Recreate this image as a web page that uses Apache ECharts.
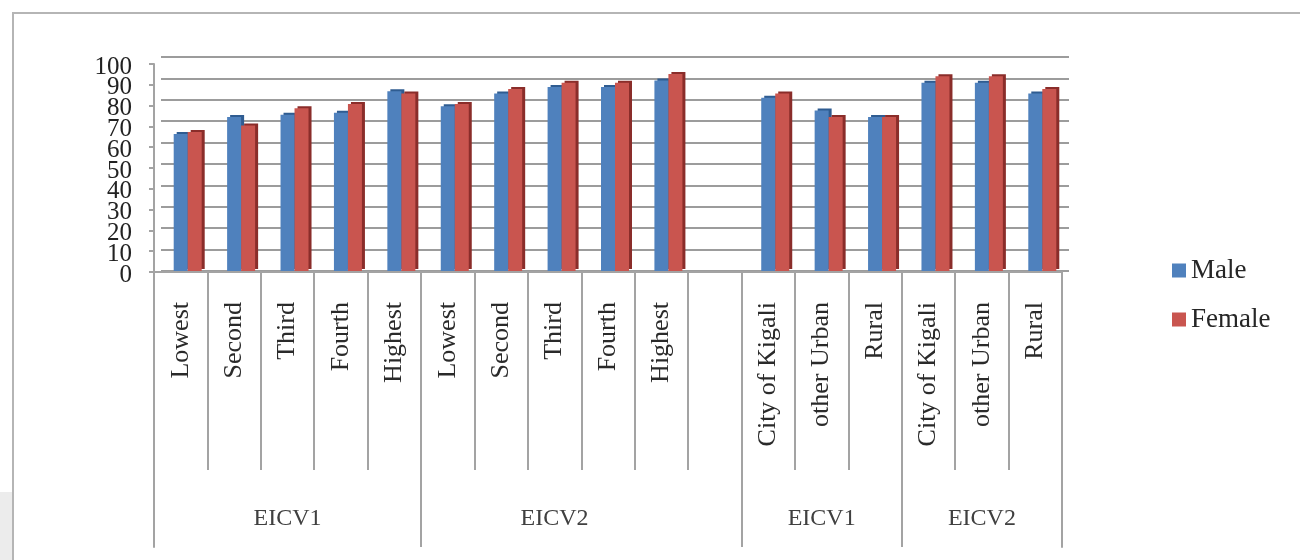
<!DOCTYPE html>
<html>
<head>
<meta charset="utf-8">
<script src="https://cdn.jsdelivr.net/npm/echarts@6/dist/echarts.min.js"></script>
<style>
html,body{margin:0;padding:0;background:#fff;}
#chart{width:1300px;height:560px;}
</style>
</head>
<body>
<div id="chart"></div>
<script>
// ---- data ----
var categories = ['Lowest','Second','Third','Fourth','Highest','Lowest','Second','Third','Fourth','Highest','','City of Kigali','other Urban','Rural','City of Kigali','other Urban','Rural'];
var maleValues   = [64, 72, 73, 74, 84, 77, 83, 86, 86, 89, null, 81, 75, 72, 88, 88, 83];
var femaleValues = [65, 68, 76, 78, 83, 78, 85, 88, 88, 92, null, 83, 72, 72, 91, 91, 85];
var groupLabels = ['EICV1','EICV2','EICV1','EICV2'];
var groupSizes = [5, 6, 3, 3];        // slots spanned by each group (EICV2 includes the blank slot)
var groupLabelSlots = [2, 7, 12, 15];  // slot under which each group label is centred
var yTicks = [0,10,20,30,40,50,60,70,80,90,100];

// derived group axis
var groupAxisData = categories.map(function(){ return ''; });
groupLabelSlots.forEach(function(s, i){ groupAxisData[s] = groupLabels[i]; });
var groupBoundaries = [];
var acc = 0;
groupSizes.forEach(function(n){ groupBoundaries.push(acc); acc += n; });

var FONT = 'Liberation Serif';
var GRAY = '#a3a3a3';
// front value axis geometry: 0 at y=272, 100 at y=64
var AX_TOP = 64, AX_H = 208;
var LBL_TOP = 67; // labels sit slightly lower (3D front face)
var UNIT = AX_H / 100;

function yLabel(v){ return yTicks.indexOf(v) >= 0 ? String(v) : ''; }
var yLabelStyle = {margin:22, fontFamily:FONT, fontSize:25, color:'#222222',
  showMinLabel:true, showMaxLabel:true, formatter:yLabel};

var chart = echarts.init(document.getElementById('chart'));
chart.setOption({
  animation: false,
  backgroundColor: '#ffffff',
  graphic: [
    {type:'rect', shape:{x:0, y:492, width:12, height:68}, style:{fill:'#ececec'}, silent:true},
    {type:'rect', shape:{x:13, y:13, width:1300, height:560}, style:{fill:'none', stroke:'#b5b5b5', lineWidth:2}, silent:true}
  ],
  legend: {
    orient: 'vertical',
    left: 1167, top: 252,
    itemWidth: 14, itemHeight: 14, itemGap: 22,
    icon: 'rect',
    textStyle: {fontFamily: FONT, fontSize: 27, color: '#262626'},
    data: ['Male','Female']
  },
  grid: [
    {left: 161, top: 57, width: 908, height: 214},   // bars
    {left: 154, top: AX_TOP, width: 908, height: AX_H},   // front axes
    {left: 154, top: 272, width: 908, height: 275},  // group level
    {left: 154, top: LBL_TOP - 10*UNIT, width: 908, height: AX_H + 20*UNIT}, // odd labels (-10..110)
    {left: 154, top: LBL_TOP, width: 908, height: AX_H}  // even labels
  ],
  xAxis: [
    {type:'category', gridIndex:0, data: categories, show:false},
    {type:'category', gridIndex:1, data: categories, position:'bottom',
     axisLine:{show:true, lineStyle:{color:GRAY, width:2}},
     axisTick:{show:true, interval:0, length:198, lineStyle:{color:GRAY, width:2}},
     axisLabel:{interval:0, rotate:90, margin:30, fontFamily:FONT, fontSize:26, color:'#2a2a2a'}},
    {type:'category', gridIndex:2, data: groupAxisData, position:'bottom',
     axisLine:{show:false},
     axisTick:{show:true, inside:true, length:275, lineStyle:{color:GRAY, width:2},
       interval:function(idx){ return groupBoundaries.indexOf(idx) >= 0; }},
     axisLabel:{inside:true, margin:16, interval:0, fontFamily:FONT, fontSize:24, color:'#404040'}},
    {type:'category', gridIndex:3, data: categories, show:false},
    {type:'category', gridIndex:4, data: categories, show:false}
  ],
  yAxis: [
    {type:'value', gridIndex:0, min:0, max:100, interval:10,
     axisLine:{show:false}, axisTick:{show:false}, axisLabel:{show:false},
     splitLine:{show:true, lineStyle:{color:'#9c9c9c', width:2}}},
    // front axis line + ticks every 10
    {type:'value', gridIndex:1, min:0, max:100, interval:10, position:'left',
     axisLine:{show:true, lineStyle:{color:GRAY, width:2}},
     axisTick:{show:true, length:5, lineStyle:{color:GRAY, width:2}},
     axisLabel:{show:false}, splitLine:{show:false}},
    {type:'value', gridIndex:2, position:'left', axisLine:{show:true, onZero:false, lineStyle:{color:GRAY, width:2}},
     axisTick:{show:false}, axisLabel:{show:false}, splitLine:{show:false}},
    {type:'value', gridIndex:2, position:'right', axisLine:{show:true, onZero:false, lineStyle:{color:GRAY, width:2}},
     axisTick:{show:false}, axisLabel:{show:false}, splitLine:{show:false}},
    // odd labels 10,30,...,90
    {type:'value', gridIndex:3, min:-10, max:110, interval:20, position:'left',
     axisLine:{show:false}, axisTick:{show:false}, axisLabel:yLabelStyle, splitLine:{show:false}},
    // even labels 0,20,...,100
    {type:'value', gridIndex:4, min:0, max:100, interval:20, position:'left',
     axisLine:{show:false}, axisTick:{show:false}, axisLabel:yLabelStyle, splitLine:{show:false}}
  ],
  series: [
    {name:'Male', type:'bar', xAxisIndex:0, yAxisIndex:0, data: maleValues,
     barWidth: 14, barGap: '0%',
     itemStyle:{color:'#4f81bd', shadowColor:'#2f5c91', shadowOffsetX:3, shadowOffsetY:-2, shadowBlur:0}},
    {name:'Female', type:'bar', xAxisIndex:0, yAxisIndex:0, data: femaleValues,
     barWidth: 14, barGap: '0%',
     itemStyle:{color:'#c9554f', shadowColor:'#8a2d2a', shadowOffsetX:3, shadowOffsetY:-2, shadowBlur:0}}
  ]
});
</script>
</body>
</html>
